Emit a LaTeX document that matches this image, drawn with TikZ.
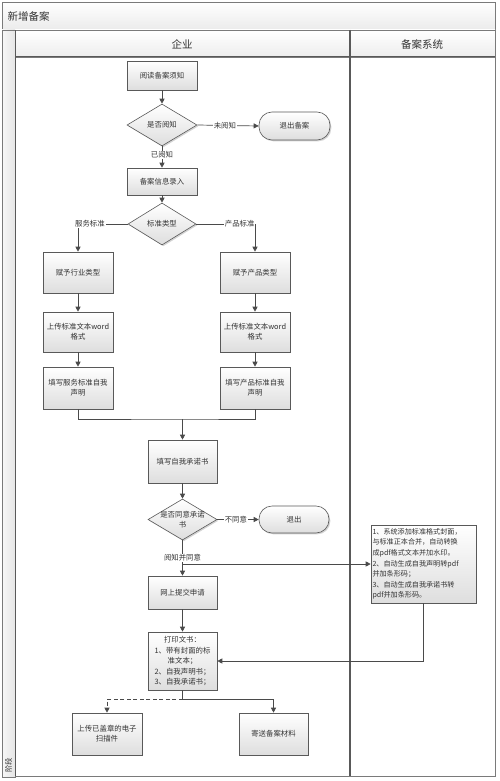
\documentclass[tikz,border=0pt]{standalone}
\usepackage{fontspec}
\setmainfont{Noto Sans CJK SC}
\usetikzlibrary{arrows.meta,shapes.geometric,shadows}
\definecolor{linec}{HTML}{4A4A4A}
\definecolor{framec}{HTML}{7A7A7A}
\definecolor{textc}{HTML}{333333}
\begin{document}
\begin{tikzpicture}[x=1pt,y=-1pt,
  txt/.style={font=\fontsize{7.4}{10}\selectfont, text=textc},
  shad/.style={drop shadow={shadow xshift=1.3pt,shadow yshift=-1.3pt,opacity=0.35}},
  proc/.style={txt, draw=black!65, line width=0.6pt, top color=white, bottom color=black!13, shad,
    minimum width=70pt, minimum height=40pt, inner sep=1pt, align=center},
  term/.style={proc, rounded corners=13pt, minimum height=28pt},
  dec/.style={diamond, draw=black!65, line width=0.6pt, top color=white, bottom color=black!13, shad,
    inner sep=0pt, minimum width=70pt, minimum height=42pt, aspect=1.67},
  lbl/.style={txt, fill=white, inner sep=0.8pt},
  flow/.style={draw=linec, line width=0.7pt, -{Triangle[length=5pt,width=5pt]}},
  plain/.style={draw=linec, line width=0.7pt},
  frame/.style={draw=framec, line width=0.7pt},
  hdr/.style={font=\fontsize{10.5}{12}\selectfont, text=textc}
  ]
\path[use as bounding box] (0,0) rectangle (500,781);
% frame
\path[frame, top color=white, bottom color=black!8] (2,2) rectangle (495,30);
\path[frame, left color=black!3, right color=black!10] (2,30) rectangle (15,777);
\path[frame, top color=white, bottom color=black!7] (15,30) rectangle (495,57);
\draw[frame] (15,57) rectangle (495,776);
\draw[draw=black!65, line width=1.3pt] (350,30) -- (350,776);
\draw[draw=black!65, line width=1pt] (15,30) -- (15,776);
\draw[draw=black!65, line width=1pt] (15,57) -- (495,57);
\node[hdr, anchor=west] (title) at (4,16) {新增备案};
\node[hdr] (lane1) at (182,44) {企业};
\node[hdr] (lane2) at (422,44) {备案系统};
\node[txt, rotate=90] (phase) at (8.5,765) {阶段};

% nodes
\node[proc, minimum height=29pt] (read) at (162,75.5) {阅读备案须知};
\node[dec] (q1) at (162,125) {};
\node[txt] (q1t) at (q1) {是否阅知};
\node[term, minimum width=71pt, minimum height=28pt] (exit1) at (294.5,126) {退出备案};
\node[proc, minimum height=27pt] (entry) at (162,181.5) {备案信息录入};
\node[dec, minimum width=68pt] (q2) at (162,224) {};
\node[txt] (q2t) at (q2) {标准类型};
\node[proc, minimum height=41pt] (svc1) at (78,272.5) {赋予行业类型};
\node[proc, minimum height=41pt] (prd1) at (255,272.5) {赋予产品类型};
\node[proc] (svc2) at (78,332) {上传标准文本word\\格式};
\node[proc] (prd2) at (255,332) {上传标准文本word\\格式};
\node[proc, minimum height=42pt] (svc3) at (78,388) {填写服务标准自我\\声明};
\node[proc, minimum height=42pt] (prd3) at (255,388) {填写产品标准自我\\声明};
\node[proc, minimum width=69pt, minimum height=43pt] (promise) at (182.5,461.5) {填写自我承诺书};
\node[dec, minimum width=69pt, minimum height=41pt] (q3) at (182.5,519.5) {};
\node[txt, align=center] (q3t) at (q3) {是否同意承诺\\书};
\node[term, minimum height=27pt] (exit2) at (294,519.5) {退出};
\node[proc, minimum width=69pt, minimum height=33pt] (submit) at (182.5,592.5) {网上提交申请};
\node[proc, minimum width=69pt, minimum height=58pt, font=\fontsize{7.4}{10.5}\selectfont] (print) at (182.5,661)
  {打印文书：\\1、带有封面的标\\准文本；\\2、自我声明书；\\3、自我承诺书；};
\node[proc, minimum height=42pt] (upload) at (107,734) {上传已盖章的电子\\扫描件};
\node[proc, minimum width=69pt, minimum height=42pt] (mail) at (273.5,734) {寄送备案材料};
\node[proc, minimum width=105pt, minimum height=78pt, align=left, text width=102pt, inner sep=1.5pt,
  font=\fontsize{7.1}{10.6}\selectfont] (sys) at (423.5,564)
  {1、系统添加标准格式封面，\\与标准正本合并，自动转换\\成pdf格式文本并加水印。\\2、自动生成自我声明转pdf\\并加条形码；\\3、自动生成自我承诺书转\\pdf并加条形码。};

% coordinates
\coordinate (m1) at (182.5,419);
\coordinate (b1) at (182.5,564);
\coordinate (p1) at (182.5,699);

% connectors
\draw[flow] (read) -- (q1);
\draw[flow] (q1.east) -- node[lbl, pos=0.45] {未阅知} (exit1.west);
\draw[flow] (q1.south) -- node[lbl, pos=0.4] {已阅知} (entry.north);
\draw[flow] (entry) -- (q2);
\draw[flow] (q2.west) -| node[lbl, pos=0.38] {服务标准} (svc1.north);
\draw[flow] (q2.east) -| node[lbl, pos=0.37] {产品标准} (prd1.north);
\draw[flow] (svc1) -- (svc2);
\draw[flow] (svc2) -- (svc3);
\draw[flow] (prd1) -- (prd2);
\draw[flow] (prd2) -- (prd3);
\draw[plain] (svc3.south) |- (m1) -| (prd3.south);
\draw[flow] (m1) -- (promise.north);
\draw[flow] (promise) -- (q3);
\draw[flow] (q3.east) -- node[lbl, pos=0.45] {不同意} (exit2.west);
\draw[flow] (q3.south) -- node[lbl, pos=0.5] {阅知并同意} (submit.north);
\draw[flow] (b1) -- (sys.west);
\draw[flow] (submit) -- (print);
\draw[flow] (sys.south) |- (print.east);
\draw[plain] (print.south) -- (p1);
\draw[flow, dashed, dash pattern=on 4pt off 2.5pt] (p1) -| (upload.north);
\draw[flow] (p1) -| (mail.north);
\end{tikzpicture}
\end{document}
